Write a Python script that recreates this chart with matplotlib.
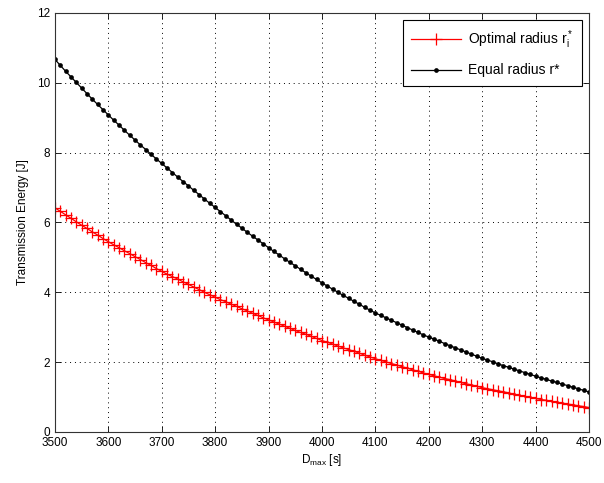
import numpy as np
import matplotlib
matplotlib.use("Agg")
import matplotlib.pyplot as plt

plt.rcParams['font.family'] = ['Liberation Sans', 'DejaVu Sans']
plt.rcParams['mathtext.fontset'] = 'custom'
plt.rcParams['mathtext.rm'] = 'Liberation Sans'
plt.rcParams['mathtext.it'] = 'Liberation Sans'

d_max = list(range(3500, 4501, 10))

equal_radius = [
    10.67, 10.50, 10.33, 10.17, 10.01, 9.85, 9.69, 9.53, 9.38, 9.23,
    9.08, 8.93, 8.79, 8.64, 8.50, 8.36, 8.22, 8.09, 7.95, 7.82,
    7.69, 7.56, 7.43, 7.30, 7.17, 7.05, 6.92, 6.80, 6.67, 6.55,
    6.43, 6.31, 6.19, 6.07, 5.95, 5.84, 5.72, 5.61, 5.50, 5.39,
    5.28, 5.17, 5.07, 4.96, 4.86, 4.76, 4.66, 4.56, 4.46, 4.37,
    4.27, 4.18, 4.09, 4.00, 3.91, 3.83, 3.74, 3.66, 3.57, 3.49,
    3.41, 3.34, 3.27, 3.20, 3.13, 3.06, 2.99, 2.92, 2.85, 2.78,
    2.72, 2.66, 2.60, 2.53, 2.47, 2.41, 2.35, 2.29, 2.23, 2.17,
    2.11, 2.06, 2.01, 1.95, 1.90, 1.85, 1.80, 1.75, 1.70, 1.65,
    1.60, 1.55, 1.51, 1.46, 1.42, 1.37, 1.33, 1.28, 1.24, 1.19,
    1.15,
]

optimal_radius = [
    6.42, 6.32, 6.22, 6.12, 6.02, 5.92, 5.83, 5.73, 5.64, 5.54,
    5.45, 5.36, 5.28, 5.19, 5.11, 5.02, 4.94, 4.85, 4.77, 4.68,
    4.60, 4.52, 4.45, 4.38, 4.30, 4.23, 4.15, 4.08, 4.00, 3.93,
    3.86, 3.79, 3.73, 3.66, 3.60, 3.53, 3.47, 3.40, 3.34, 3.27,
    3.21, 3.15, 3.09, 3.03, 2.97, 2.91, 2.85, 2.80, 2.74, 2.68,
    2.62, 2.57, 2.52, 2.46, 2.41, 2.36, 2.31, 2.26, 2.20, 2.15,
    2.10, 2.05, 2.01, 1.96, 1.92, 1.87, 1.83, 1.78, 1.74, 1.69,
    1.65, 1.61, 1.57, 1.53, 1.50, 1.46, 1.42, 1.38, 1.35, 1.31,
    1.27, 1.24, 1.21, 1.18, 1.15, 1.12, 1.08, 1.05, 1.02, 0.99,
    0.96, 0.93, 0.91, 0.88, 0.85, 0.83, 0.80, 0.78, 0.75, 0.73,
    0.70,
]

x_ticks = [3500, 3600, 3700, 3800, 3900, 4000, 4100, 4200, 4300, 4400, 4500]
y_ticks = [0, 2, 4, 6, 8, 10, 12]

fig = plt.figure(figsize=(6.04, 4.83), dpi=100)
ax = fig.add_axes([0.091, 0.1056, 0.884, 0.8675])

ax.plot(d_max, optimal_radius, color='red', lw=0.9, marker='+', ms=8, mew=0.9,
        label=r'Optimal radius $\mathregular{r_i^*}$')
ax.plot(d_max, equal_radius, color='black', lw=0.9, marker='o', ms=3.4, mew=0,
        label='Equal radius r*')

ax.set_xlim(3500, 4500)
ax.set_ylim(0, 12)
ax.set_xticks(x_ticks)
ax.set_yticks(y_ticks)
ax.tick_params(direction='in', top=True, right=True, labelsize=8.5, length=4, width=0.6)
ax.grid(True, linestyle=(0, (1, 4)), color='black', lw=0.7)
for s in ax.spines.values():
    s.set_linewidth(0.8)
    s.set_color('#333333')

ax.set_xlabel(r'D$_{\mathregular{max}}$ [s]', fontsize=8.5, labelpad=2)
ax.set_ylabel('Transmission Energy [J]', fontsize=8.5, labelpad=6)

leg = ax.legend(loc='upper right', fontsize=10, fancybox=False, framealpha=1,
                edgecolor='black', borderaxespad=0.5, handlelength=3.6,
                labelspacing=0.9, borderpad=0.6, handletextpad=0.5)
leg.get_frame().set_linewidth(0.8)

fig.savefig('out.png', dpi=100)
